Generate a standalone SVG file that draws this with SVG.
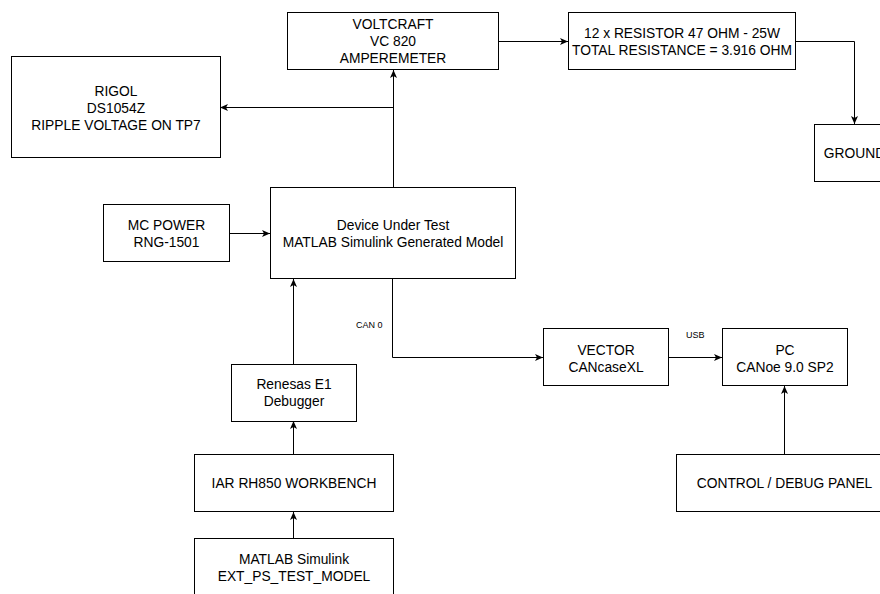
<svg xmlns="http://www.w3.org/2000/svg" width="880" height="594" viewBox="0 0 880 594">
  <style>
    .box { fill: #ffffff; stroke: #000000; stroke-width: 1; }
    .lbl { font-family: "Liberation Sans", Arial, sans-serif; font-size: 13.8px; fill: #000000; text-anchor: middle; dominant-baseline: central; }
    .small { font-family: "Liberation Sans", Arial, sans-serif; font-size: 9px; fill: #000000; dominant-baseline: central; }
    .wire { fill: none; stroke: #000000; stroke-width: 1; }
  </style>
  <defs>
    <marker id="arrow" markerUnits="userSpaceOnUse" markerWidth="10" markerHeight="10" refX="8" refY="4" orient="auto">
      <path d="M0,0.5 L8,4 L0,7.5 L2,4 Z" fill="#000000"/>
    </marker>
  </defs>
  <rect width="880" height="594" fill="#ffffff"/>

  <g id="connectors">
    <path class="wire" d="M393.5,187 V70" marker-end="url(#arrow)"/>
    <path class="wire" d="M393.5,107.5 H220" marker-end="url(#arrow)"/>
    <path class="wire" d="M498,41.5 H568" marker-end="url(#arrow)"/>
    <path class="wire" d="M795,41.5 H854.5 V124" marker-end="url(#arrow)"/>
    <path class="wire" d="M229,233.5 H270" marker-end="url(#arrow)"/>
    <path class="wire" d="M293.5,364 V279" marker-end="url(#arrow)"/>
    <path class="wire" d="M293.5,454 V421" marker-end="url(#arrow)"/>
    <path class="wire" d="M293.5,538 V512" marker-end="url(#arrow)"/>
    <path class="wire" d="M392.5,279 V357.5 H543" marker-end="url(#arrow)"/>
    <path class="wire" d="M668,357.5 H722" marker-end="url(#arrow)"/>
    <path class="wire" d="M784.5,454 V386" marker-end="url(#arrow)"/>
    <text class="small" x="356" y="324.5">CAN 0</text>
    <text class="small" x="686" y="334.5">USB</text>
  </g>

  <g id="voltcraft">
    <rect class="box" x="287.5" y="12.5" width="211" height="57"/>
    <text class="lbl" x="393" y="24.5">VOLTCRAFT</text>
    <text class="lbl" x="393" y="41.5">VC 820</text>
    <text class="lbl" x="393" y="58.5">AMPEREMETER</text>
  </g>

  <g id="resistor">
    <rect class="box" x="568.5" y="12.5" width="227" height="57"/>
    <text class="lbl" x="682" y="33">12 x RESISTOR 47 OHM - 25W</text>
    <text class="lbl" x="682" y="50">TOTAL RESISTANCE = 3.916 OHM</text>
  </g>

  <g id="ground">
    <rect class="box" x="814.5" y="124.5" width="80" height="57"/>
    <text class="lbl" x="854.5" y="153.5">GROUND</text>
  </g>

  <g id="rigol">
    <rect class="box" x="11.5" y="56.5" width="209" height="101"/>
    <text class="lbl" x="116" y="91.5">RIGOL</text>
    <text class="lbl" x="116" y="108.5">DS1054Z</text>
    <text class="lbl" x="116" y="125.5">RIPPLE VOLTAGE ON TP7</text>
  </g>

  <g id="dut">
    <rect class="box" x="270.5" y="187.5" width="245" height="91"/>
    <text class="lbl" x="393" y="225.5">Device Under Test</text>
    <text class="lbl" x="393" y="242">MATLAB Simulink Generated Model</text>
  </g>

  <g id="mc-power">
    <rect class="box" x="103.5" y="204.5" width="126" height="57"/>
    <text class="lbl" x="166.5" y="225.5">MC POWER</text>
    <text class="lbl" x="166.5" y="242">RNG-1501</text>
  </g>

  <g id="vector">
    <rect class="box" x="543.5" y="328.5" width="125" height="57"/>
    <text class="lbl" x="606" y="350.5">VECTOR</text>
    <text class="lbl" x="606" y="367.5">CANcaseXL</text>
  </g>

  <g id="pc">
    <rect class="box" x="722.5" y="328.5" width="125" height="57"/>
    <text class="lbl" x="785" y="350.5">PC</text>
    <text class="lbl" x="785" y="367.5">CANoe 9.0 SP2</text>
  </g>

  <g id="renesas">
    <rect class="box" x="231.5" y="364.5" width="125" height="57"/>
    <text class="lbl" x="294" y="384.5">Renesas E1</text>
    <text class="lbl" x="294" y="401.5">Debugger</text>
  </g>

  <g id="iar">
    <rect class="box" x="194.5" y="454.5" width="199" height="57"/>
    <text class="lbl" x="294" y="483">IAR RH850 WORKBENCH</text>
  </g>

  <g id="control-panel">
    <rect class="box" x="676.5" y="454.5" width="216" height="57"/>
    <text class="lbl" x="784.5" y="483.5">CONTROL / DEBUG PANEL</text>
  </g>

  <g id="matlab-model">
    <rect class="box" x="194.5" y="538.5" width="199" height="57"/>
    <text class="lbl" x="294" y="559.5">MATLAB Simulink</text>
    <text class="lbl" x="294" y="576.5">EXT_PS_TEST_MODEL</text>
  </g>
</svg>
